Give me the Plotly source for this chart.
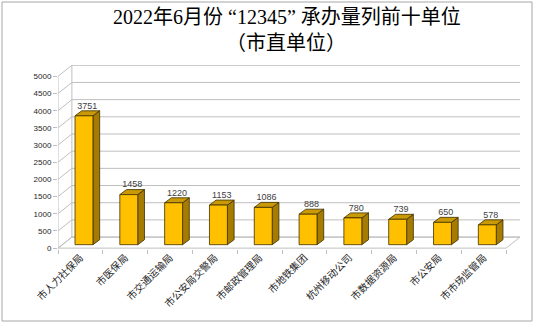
import plotly.graph_objects as go

categories = ["市人力社保局", "市医保局", "市交通运输局", "市公安局交警局", "市邮政管理局",
              "市地铁集团", "杭州移动公司", "市数据资源局", "市公安局", "市市场监管局"]
values = [3751, 1458, 1220, 1153, 1086, 888, 780, 739, 650, 578]
y_ticks = list(range(0, 5001, 500))

# 3D look parameters (in axis units)
WALL_DX, WALL_DY = 0.31, 322     # back-wall depth offset
BAR_SHIFT_X, BAR_BASE = 0.08, 100
BAR_HALF = 0.2
DDX, DDY = 0.15, 146             # bar depth offset

GRID = "#bfbfbf"
EDGE = "#3d2f00"
FONT = "Liberation Sans, Arial, Noto Sans CJK SC, sans-serif"

n = len(categories)
x_left, x_right = -0.5, n - 0.5

fig = go.Figure()

# floor
fig.add_trace(go.Scatter(
    x=[x_left, x_right, x_right + WALL_DX, x_left + WALL_DX, x_left],
    y=[0, 0, WALL_DY, WALL_DY, 0],
    mode="lines", fill="toself", fillcolor="white",
    line=dict(color=GRID, width=1), hoverinfo="skip", showlegend=False))

# gridlines on side + back wall
gx, gy = [], []
for v in y_ticks:
    gx += [x_left, x_left + WALL_DX, x_right + WALL_DX, None]
    gy += [v, v + WALL_DY, v + WALL_DY, None]
gx += [x_left + WALL_DX, x_left + WALL_DX, None]
gy += [WALL_DY, y_ticks[-1] + WALL_DY, None]
fig.add_trace(go.Scatter(x=gx, y=gy, mode="lines", line=dict(color=GRID, width=1),
                         hoverinfo="skip", showlegend=False))

# front vertical axis line
fig.add_trace(go.Scatter(x=[x_left, x_left], y=[0, y_ticks[-1]], mode="lines",
                         line=dict(color=GRID, width=1), hoverinfo="skip", showlegend=False))

# bars: front, side, top faces
fx, fy, sx, sy, tx, ty = [], [], [], [], [], []
for i, v in enumerate(values):
    xl = i + BAR_SHIFT_X - BAR_HALF
    xr = i + BAR_SHIFT_X + BAR_HALF
    b, t = BAR_BASE, BAR_BASE + v
    sx += [xr, xr + DDX, xr + DDX, xr, xr, None]
    sy += [b, b + DDY, t + DDY, t, b, None]
    tx += [xl, xl + DDX, xr + DDX, xr, xl, None]
    ty += [t, t + DDY, t + DDY, t, t, None]
    fx += [xl, xr, xr, xl, xl, None]
    fy += [b, b, t, t, b, None]

for xs, ys, col in [(sx, sy, "#a67c00"), (tx, ty, "#c99a06"), (fx, fy, "#ffc000")]:
    fig.add_trace(go.Scatter(x=xs, y=ys, mode="lines", fill="toself", fillcolor=col,
                             line=dict(color=EDGE, width=0.8), hoverinfo="skip",
                             showlegend=False))

# value labels
fig.add_trace(go.Scatter(
    x=[i + BAR_SHIFT_X + DDX / 2 for i in range(n)],
    y=[BAR_BASE + v + DDY for v in values],
    mode="text", text=[str(v) for v in values], textposition="top center",
    textfont=dict(family=FONT, size=9, color="#404040"),
    hoverinfo="skip", showlegend=False, cliponaxis=False))

fig.update_xaxes(
    range=[x_left, x_right + WALL_DX], tickvals=list(range(n)), ticktext=categories,
    tickangle=-45, ticks="", showgrid=False, zeroline=False, showline=False,
    tickfont=dict(family=FONT, size=10, color="#262626"),
    minor=dict(tick0=0.5, dtick=1, ticks="outside", ticklen=4, tickcolor=GRID, showgrid=False))
fig.update_yaxes(
    range=[-25, 5330], tickvals=y_ticks, ticks="outside", ticklen=4, tickcolor=GRID,
    showgrid=False, zeroline=False, showline=False,
    tickfont=dict(family=FONT, size=8, color="#262626"))

W, H = 538, 323
ML, MR, MT, MB = 58, 18, 65, 74
plot_w = W - ML - MR
plot_h = H - MT - MB


def px_x(p):
    return (p - ML) / plot_w


def px_y(p):
    return (H - MB - p) / plot_h


TITLE_FONT = dict(family="Liberation Serif, Noto Sans CJK SC, serif", size=20, color="#000000")
fig.add_annotation(text="2022年6月份\u00a0“12345”\u00a0承办量列前十单位", x=px_x(287), y=px_y(17),
                   xref="paper", yref="paper", showarrow=False, font=TITLE_FONT,
                   xanchor="center", yanchor="middle")
fig.add_annotation(text="（市直单位）", x=px_x(286), y=px_y(43), xref="paper", yref="paper",
                   showarrow=False, font=TITLE_FONT, xanchor="center", yanchor="middle")

fig.update_layout(
    width=W, height=H, margin=dict(l=ML, r=MR, t=MT, b=MB),
    plot_bgcolor="white", paper_bgcolor="white")

# outer border
fig.add_shape(type="rect", xref="paper", yref="paper",
              x0=px_x(2), x1=px_x(532), y0=px_y(321), y1=px_y(2),
              line=dict(color="#a6a6a6", width=1), layer="below")

fig.write_html("out.html")
